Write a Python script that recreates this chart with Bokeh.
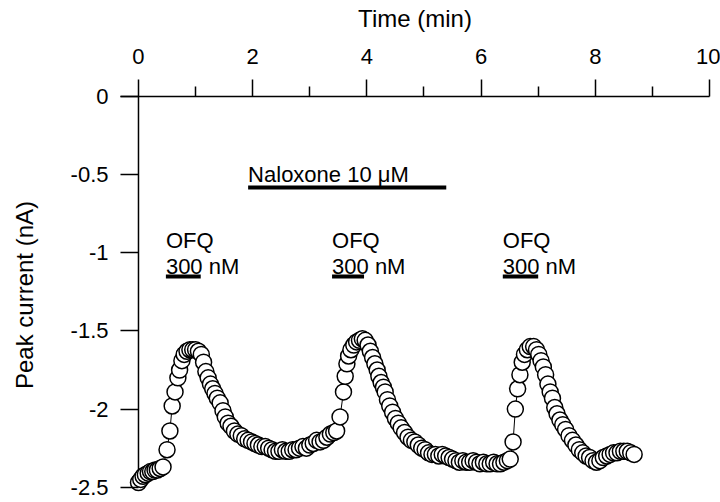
from bokeh.plotting import figure
from bokeh.models import Range1d, FixedTicker, ColumnDataSource
from bokeh.core.properties import value
from bokeh.embed import file_html
from bokeh.resources import INLINE

# ---- data ----
time_min = [
    0.00, 0.04, 0.08, 0.12, 0.17, 0.21, 0.25, 0.29, 0.33, 0.38, 0.43,
    0.50, 0.55, 0.59, 0.64, 0.69, 0.72, 0.76, 0.80, 0.85, 0.90, 0.95, 1.00,
    1.05, 1.10, 1.14, 1.18, 1.22, 1.26, 1.30, 1.34, 1.38, 1.43, 1.48, 1.52,
    1.57, 1.62, 1.68, 1.74, 1.80, 1.86, 1.92, 1.98, 2.04, 2.10, 2.16, 2.22,
    2.28, 2.34, 2.40, 2.46, 2.52, 2.58, 2.64, 2.70, 2.76, 2.82, 2.88, 2.94,
    3.00, 3.06, 3.12, 3.18, 3.24, 3.30, 3.36, 3.42, 3.47,
    3.53, 3.59, 3.62, 3.65, 3.68, 3.72, 3.77, 3.82, 3.87, 3.92, 3.97, 4.02,
    4.06, 4.10, 4.14, 4.18, 4.21, 4.25, 4.29, 4.32, 4.36, 4.40, 4.45, 4.50,
    4.55, 4.60, 4.66, 4.72, 4.78, 4.84, 4.90, 4.96, 5.02, 5.08, 5.14, 5.20,
    5.26, 5.32, 5.38, 5.44, 5.50, 5.56, 5.62, 5.68, 5.74, 5.80, 5.86, 5.92,
    5.98, 6.04, 6.10, 6.16, 6.22, 6.28, 6.34, 6.40, 6.46, 6.51,
    6.56, 6.60, 6.64, 6.68, 6.72, 6.76, 6.81, 6.86, 6.92, 6.97, 7.01, 7.05,
    7.09, 7.13, 7.17, 7.21, 7.25, 7.29, 7.33, 7.38, 7.43, 7.48, 7.54, 7.60,
    7.66, 7.72, 7.78, 7.84, 7.90, 7.96, 8.02, 8.08, 8.14, 8.20, 8.26, 8.32,
    8.38, 8.44, 8.50, 8.56, 8.62, 8.68,
]
peak_nA = [
    -2.47, -2.45, -2.43, -2.42, -2.41, -2.40, -2.40, -2.39, -2.39, -2.38, -2.37,
    -2.26, -2.14, -1.98, -1.89, -1.80, -1.75, -1.69, -1.65, -1.63, -1.62, -1.62, -1.62,
    -1.63, -1.65, -1.70, -1.76, -1.80, -1.84, -1.87, -1.90, -1.93, -1.96, -2.01, -2.05,
    -2.09, -2.11, -2.14, -2.16, -2.17, -2.19, -2.20, -2.21, -2.22, -2.23, -2.24, -2.24,
    -2.25, -2.26, -2.27, -2.27, -2.26, -2.27, -2.27, -2.26, -2.26, -2.25, -2.24, -2.25,
    -2.23, -2.22, -2.20, -2.21, -2.20, -2.18, -2.16, -2.15, -2.14,
    -2.05, -1.89, -1.79, -1.71, -1.66, -1.62, -1.59, -1.57, -1.56, -1.55, -1.56, -1.59,
    -1.63, -1.67, -1.71, -1.75, -1.79, -1.83, -1.86, -1.89, -1.94, -1.98, -2.02, -2.06,
    -2.09, -2.12, -2.15, -2.18, -2.20, -2.21, -2.23, -2.25, -2.26, -2.28, -2.29, -2.29,
    -2.30, -2.29, -2.30, -2.31, -2.32, -2.33, -2.34, -2.33, -2.34, -2.34, -2.33, -2.34,
    -2.35, -2.34, -2.35, -2.35, -2.34, -2.35, -2.35, -2.34, -2.33, -2.32,
    -2.21, -2.00, -1.87, -1.78, -1.70, -1.65, -1.62, -1.60, -1.60, -1.62, -1.65, -1.69,
    -1.73, -1.78, -1.84, -1.89, -1.93, -1.99, -2.03, -2.07, -2.10, -2.13, -2.17, -2.20,
    -2.23, -2.26, -2.28, -2.30, -2.31, -2.33, -2.34, -2.33, -2.31, -2.30, -2.29, -2.28,
    -2.28, -2.27, -2.27, -2.27, -2.28, -2.29,
]

x_ticks = [0, 2, 4, 6, 8, 10]
x_minor_ticks = [1, 3, 5, 7, 9]
y_ticks = [0, -0.5, -1, -1.5, -2, -2.5]
y_tick_labels = ["0", "-0.5", "-1", "-1.5", "-2", "-2.5"]

# application bars
ofq_start = [0.48, 3.39, 6.38]
ofq_end = [1.09, 3.95, 7.00]
ofq_name = ["OFQ", "OFQ", "OFQ"]
ofq_dose = ["300 nM", "300 nM", "300 nM"]
nalox_start = [1.92]
nalox_end = [5.39]
nalox_label = ["Naloxone 10 \u03bcM"]

FONT = "Liberation Sans"

p = figure(
    frame_width=589, frame_height=397,
    x_range=Range1d(-0.315, 10), y_range=Range1d(-2.54, 0),
    x_axis_location="above",
    min_border_left=120, min_border_top=96, min_border_right=11, min_border_bottom=8,
    output_backend="svg", toolbar_location=None,
)
p.outline_line_color = None
p.xgrid.visible = False
p.ygrid.visible = False

# x axis (top)
xa = p.xaxis[0]
xa.ticker = FixedTicker(ticks=x_ticks, minor_ticks=x_minor_ticks)
xa.axis_label = "Time (min)"
xa.axis_label_text_font = FONT
xa.axis_label_text_font_size = "24px"
xa.axis_label_text_font_style = "normal"
xa.axis_label_standoff = 14
xa.major_label_text_font = FONT
xa.major_label_text_font_size = "22px"
xa.major_label_standoff = 16
xa.major_tick_out = 17
xa.major_tick_in = 0
xa.minor_tick_out = 10
xa.minor_tick_in = 0
xa.axis_line_width = 1.5
xa.major_tick_line_width = 1.5
xa.minor_tick_line_width = 1.5
xa.axis_line_color = "black"
xa.major_tick_line_color = "black"
xa.minor_tick_line_color = "black"
xa.major_label_text_color = "black"
xa.axis_label_text_color = "black"

# y axis (left); its line is drawn at t = 0 below
ya = p.yaxis[0]
ya.ticker = FixedTicker(ticks=y_ticks, minor_ticks=[])
ya.major_label_overrides = {t: s for t, s in zip(y_ticks, y_tick_labels)}
ya.axis_label = "Peak current (nA)"
ya.axis_label_text_font = FONT
ya.axis_label_text_font_size = "24px"
ya.axis_label_text_font_style = "normal"
ya.axis_label_standoff = 30
ya.major_label_text_font = FONT
ya.major_label_text_font_size = "22px"
ya.major_label_standoff = 12
ya.axis_line_color = None
ya.major_tick_in = 18
ya.major_tick_out = 0
ya.major_tick_line_width = 1.5
ya.major_tick_line_color = "black"
ya.minor_tick_line_color = None
ya.major_label_text_color = "black"
ya.axis_label_text_color = "black"

# y axis line at time zero
p.segment(x0=[x_ticks[0]], y0=[max(y_ticks)], x1=[x_ticks[0]], y1=[min(y_ticks)],
          line_color="black", line_width=1.5)

# data
src = ColumnDataSource(dict(t=time_min, v=peak_nA))
p.line("t", "v", source=src, line_color="black", line_width=1)
p.scatter("t", "v", source=src, size=16, fill_color="white",
          line_color="black", line_width=1.5)

# naloxone bar and label
p.segment(x0=nalox_start, y0=[-0.582], x1=nalox_end, y1=[-0.582],
          line_color="black", line_width=4)
p.text(x=nalox_start, y=[-0.50], text=nalox_label, text_font=value(FONT),
       text_font_size="22px", text_baseline="alphabetic", text_align="left",
       text_color="black")

# OFQ bars and labels
p.segment(x0=ofq_start, y0=[-1.151] * 3, x1=ofq_end, y1=[-1.151] * 3,
          line_color="black", line_width=4)
p.text(x=ofq_start, y=[-0.921] * 3, text=ofq_name, text_font=value(FONT),
       text_font_size="22px", text_baseline="alphabetic", text_align="left",
       text_color="black")
p.text(x=ofq_start, y=[-1.087] * 3, text=ofq_dose, text_font=value(FONT),
       text_font_size="22px", text_baseline="alphabetic", text_align="left",
       text_color="black")

open("out.html", "w").write(file_html(p, INLINE))
